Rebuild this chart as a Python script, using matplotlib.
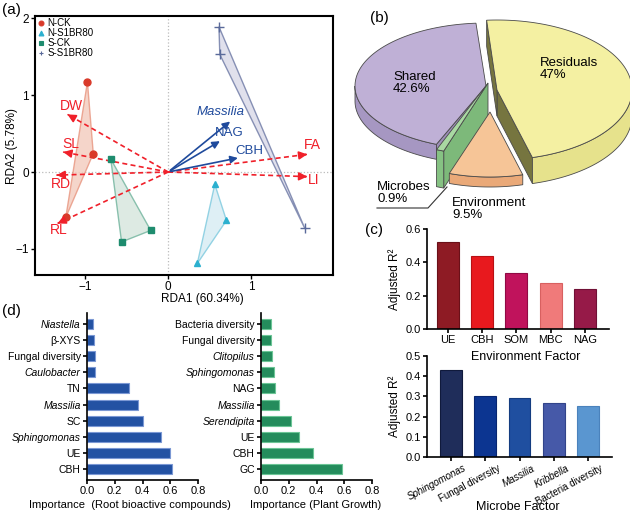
import numpy as np
import matplotlib.pyplot as plt
from matplotlib.patches import Polygon
from matplotlib.lines import Line2D
from matplotlib.transforms import ScaledTranslation

plt.rcParams['font.family'] = ['Liberation Sans', 'DejaVu Sans']
plt.rcParams['axes.linewidth'] = 1.2

# ---- (a) RDA data ----
n_ck_x = [-0.97, -0.90, -1.23]
n_ck_y = [1.17, 0.24, -0.59]
n_s1_x = [0.56, 0.70, 0.35]
n_s1_y = [-0.16, -0.63, -1.19]
s_ck_x = [-0.69, -0.21, -0.56]
s_ck_y = [0.17, -0.76, -0.91]
s_s1_x = [0.61, 0.62, 1.64]
s_s1_y = [1.89, 1.53, -0.73]

env_names = ['DW', 'SL', 'RD', 'RL', 'FA', 'LI']
env_x = [-1.21, -1.26, -1.34, -1.33, 1.67, 1.67]
env_y = [0.75, 0.26, -0.04, -0.67, 0.23, -0.06]
mic_names = ['Massilia', 'NAG', 'CBH']
mic_x = [0.77, 0.65, 0.87]
mic_y = [0.68, 0.42, 0.19]

# ---- (b) variance partitioning ----
pie_labels = ['Shared', 'Microbes', 'Environment', 'Residuals']
pie_values = [42.6, 0.9, 9.5, 47.0]

# ---- (c) adjusted R2 ----
env_factors = ['UE', 'CBH', 'SOM', 'MBC', 'NAG']
env_r2 = [0.52, 0.44, 0.334, 0.274, 0.238]
mic_factors = ['Sphingomonas', 'Fungal diversity', 'Massilia', 'Kribbella', 'Bacteria diversity']
mic_r2 = [0.43, 0.303, 0.293, 0.268, 0.253]

# ---- (d) importance ----
root_names = ['CBH', 'UE', 'Sphingomonas', 'SC', 'Massilia', 'TN',
              'Caulobacter', 'Fungal diversity', 'β-XYS', 'Niastella']
root_imp = [0.612, 0.60, 0.535, 0.40, 0.371, 0.306, 0.06, 0.055, 0.048, 0.043]
plant_names = ['GC', 'CBH', 'UE', 'Serendipita', 'Massilia', 'NAG',
               'Sphingomonas', 'Clitopilus', 'Fungal diversity', 'Bacteria diversity']
plant_imp = [0.583, 0.378, 0.272, 0.217, 0.128, 0.099, 0.094, 0.082, 0.072, 0.07]

italic_names = {'Sphingomonas', 'Massilia', 'Kribbella', 'Caulobacter', 'Niastella',
                'Serendipita', 'Clitopilus'}

W, H = 630, 517
fig = plt.figure(figsize=(6.3, 5.17), dpi=100)


def box(x0, y0, x1, y1):
    # pixel box (top-left origin) -> figure fraction rect
    return [x0 / W, 1 - y1 / H, (x1 - x0) / W, (y1 - y0) / H]


# ================= (a) =================
ax = fig.add_axes(box(35, 16, 333, 275))
ax.axhline(0, color='#bbbbbb', ls=':', lw=0.9, zorder=0)
ax.axvline(0, color='#bbbbbb', ls=':', lw=0.9, zorder=0)

groups = [
    ('N-CK', n_ck_x, n_ck_y, '#d93a2a', '#f3cbbd', '#e8957f', 'o', 5),
    ('N-S1BR80', n_s1_x, n_s1_y, '#2bb0cf', '#d6ecf3', '#7cc9de', '^', 5),
    ('S-CK', s_ck_x, s_ck_y, '#1e8c6e', '#d5e5dd', '#6fb39c', 's', 5),
    ('S-S1BR80', s_s1_x, s_s1_y, '#5a6a9a', '#d9d9e8', '#6c78a4', '+', 7),
]
handles = []
for name, gx, gy, c, fc, ec, m, ms in groups:
    ax.add_patch(Polygon(np.column_stack([gx, gy]), closed=True, facecolor=fc,
                         edgecolor=ec, lw=1.0, alpha=0.8, zorder=1))
    ax.plot(gx, gy, ls='none', marker=m, color=c, ms=ms, mew=1.0, zorder=3)
    handles.append(Line2D([], [], ls='none', marker=m, color=c, ms=3.5, mew=0.8, label=name))

red = '#f0202a'
env_off = [(0.05, 0.11), (0.09, 0.11), (0.05, -0.12), (0.02, -0.08), (0.06, 0.12), (0.08, -0.04)]
for n, x, y, (ox, oy) in zip(env_names, env_x, env_y, env_off):
    ax.plot([0, x], [0, y], color=red, ls=(0, (3, 2)), lw=1.2, zorder=2)
    ax.annotate('', xy=(x, y), xytext=(x * 0.97, y * 0.97),
                arrowprops=dict(arrowstyle='-|>', color=red, lw=1.2, mutation_scale=12))
    ax.text(x + ox, y + oy, n, color=red, fontsize=10, ha='center', va='center')

blue = '#1f4a9c'
mic_off = [(-0.14, 0.10), (0.08, 0.09), (0.11, 0.08)]
for n, x, y, (ox, oy) in zip(mic_names, mic_x, mic_y, mic_off):
    ax.annotate('', xy=(x, y), xytext=(0, 0),
                arrowprops=dict(arrowstyle='-|>', color=blue, lw=1.2, mutation_scale=11))
    ax.text(x + ox, y + oy, n, color=blue, fontsize=9.5, ha='center', va='center',
            style='italic' if n in italic_names else 'normal')

ax.set_xlim(-1.6, 1.98)
ax.set_ylim(-1.34, 2.03)
ax.set_xticks([-1, 0, 1])
ax.set_yticks([-1, 0, 1, 2])
ax.tick_params(labelsize=8.5, length=3, width=1, pad=1.5)
for s in ax.spines.values():
    s.set_linewidth(1.5)
ax.set_xlabel('RDA1 (60.34%)', fontsize=8.5)
ax.xaxis.set_label_coords((202 - 35) / 298, (275 - 293) / 259)
ax.set_ylabel('RDA2 (5.78%)', fontsize=8.5)
ax.yaxis.set_label_coords((18 - 35) / 298, 0.5)
ax.legend(handles=handles, loc='upper left', frameon=False, fontsize=7,
          handlelength=0.8, handletextpad=0.2, labelspacing=0.0, borderaxespad=0.15,
          borderpad=0.1)

# ================= (b) 3D-ish pie =================
axb = fig.add_axes(box(335, 0, 630, 230))
axb.set_xlim(335, 630)
axb.set_ylim(230, 0)
axb.axis('off')

edge = '#4a4a4a'
# per slice: centre, rx, ry, depth, top colour, rim colour, face colour
pie_style = {
    'Shared': ((486, 86), 131, 63, 15, '#bfb0d6', '#a697c2', '#9d8eb8'),
    'Microbes': ((488, 83), 136, 72, 37, '#a9d9a2', '#86c283', '#7db97a'),
    'Environment': ((490, 112), 125, 65, 10, '#f6c597', '#eaa978', '#e0a070'),
    'Residuals': ((497, 90), 135, 70, 26, '#f4f0a2', '#e6e28c', '#76753f'),
}
order = ['Shared', 'Residuals', 'Microbes', 'Environment']
start = 94.4
angles = {}
a = start
for lab, v in zip(pie_labels, pie_values):
    angles[lab] = (a, a + v * 3.6)
    a += v * 3.6


def pt(cx, cy, rx, ry, t):
    t = np.radians(t)
    return cx + rx * np.cos(t), cy - ry * np.sin(t)


for lab in order:
    t1, t2 = angles[lab]
    (cx, cy), rx, ry, d, ctop, crim, cface = pie_style[lab]
    # radial faces
    for t, vis in ((t1, np.cos(np.radians(t1)) > 0), (t2, np.cos(np.radians(t2)) < 0)):
        if vis:
            ox, oy = pt(cx, cy, rx, ry, t)
            axb.add_patch(Polygon([(cx, cy), (ox, oy), (ox, oy + d), (cx, cy + d)],
                                  closed=True, fc=cface, ec=edge, lw=0.6))
    # rim (front part only)
    lo, hi = max(t1, 180), min(t2, 360)
    if hi > lo:
        ts = np.linspace(lo, hi, 80)
        upper = [pt(cx, cy, rx, ry, t) for t in ts]
        lower = [(x, y + d) for x, y in upper[::-1]]
        axb.add_patch(Polygon(upper + lower, closed=True, fc=crim, ec=edge, lw=0.6))
    ts = np.linspace(t1, t2, 120)
    topf = [(cx, cy)] + [pt(cx, cy, rx, ry, t) for t in ts]
    axb.add_patch(Polygon(topf, closed=True, fc=ctop, ec=edge, lw=0.6))

pf = 9.5
axb.text(393, 83, 'Shared\n' + f'{pie_values[0]}%', fontsize=pf, ha='left', va='center',
         linespacing=1.1)
axb.text(540, 69, 'Residuals\n' + f'{pie_values[3]:g}%', fontsize=pf, ha='left',
         va='center', linespacing=1.1)
axb.text(377, 193, 'Microbes\n' + f'{pie_values[1]}%', fontsize=pf, ha='left', va='center',
         linespacing=1.1)
axb.text(452, 209, 'Environment\n' + f'{pie_values[2]}%', fontsize=pf, ha='left',
         va='center', linespacing=1.1)
axb.plot([377, 428, 447], [208, 208, 187], color='#333333', lw=0.8)

# ================= (c) =================
env_cols = ['#8e1b24', '#e8191e', '#c0135c', '#f07a7a', '#961a48']
env_edge = ['#6a1018', '#b81014', '#900a44', '#d86060', '#701036']
axc1 = fig.add_axes(box(427, 229, 609, 329))
axc1.bar(range(len(env_factors)), env_r2, width=0.64, color=env_cols,
         edgecolor=env_edge, lw=0.8)
axc1.set_xlim(-0.61, 4.7)
axc1.set_ylim(0, 0.6)
axc1.set_yticks([0, 0.2, 0.4, 0.6])
axc1.set_xticks(range(len(env_factors)))
axc1.set_xticklabels(env_factors)
axc1.set_xlabel('Environment Factor', fontsize=9)
axc1.xaxis.set_label_coords((526 - 427) / 182, (329 - 351) / 100)
axc1.set_ylabel('Adjusted R²', fontsize=8.5, labelpad=3)

mic_cols = ['#1f2d5a', '#0c3591', '#1f4fa0', '#4659a8', '#5a96d0']
mic_edge = ['#101a3c', '#082670', '#143c80', '#32448a', '#4a82bc']
axc2 = fig.add_axes(box(427, 356, 612, 457))
axc2.patch.set_visible(False)
axc2.bar(range(len(mic_factors)), mic_r2, width=0.64, color=mic_cols,
         edgecolor=mic_edge, lw=0.8)
axc2.set_xlim(-0.7, 4.7)
axc2.set_ylim(0, 0.5)
axc2.set_yticks([0, 0.1, 0.2, 0.3, 0.4, 0.5])
axc2.set_xticks(range(len(mic_factors)))
axc2.set_xticklabels(mic_factors, rotation=28, ha='right', rotation_mode='anchor')
axc2.set_xlabel('Microbe Factor', fontsize=9)
axc2.xaxis.set_label_coords((518 - 427) / 185, (457 - 501) / 101)
axc2.set_ylabel('Adjusted R²', fontsize=8.5, labelpad=3)

for axc in (axc1, axc2):
    axc.spines['top'].set_visible(False)
    axc.spines['right'].set_visible(False)
    axc.tick_params(labelsize=8, length=3, width=1.2, pad=1.5)
    axc.yaxis.set_major_formatter(plt.FormatStrFormatter('%.1f'))
shift = ScaledTranslation(12 / 100, 0, fig.dpi_scale_trans)
for t in axc2.get_xticklabels():
    t.set_fontsize(7)
    t.set_transform(t.get_transform() + shift)
    if t.get_text() in italic_names:
        t.set_style('italic')


# ================= (d) =================
def hbar(rect, names, vals, fc, ec, xlabel, lab_x):
    axd = fig.add_axes(rect)
    axd.patch.set_visible(False)
    axd.barh(range(len(names)), vals, height=0.62, color=fc, edgecolor=ec, lw=0.8)
    axd.set_xlim(0, 0.8)
    axd.set_ylim(-0.7, 9.7)
    axd.set_xticks([0, 0.2, 0.4, 0.6, 0.8])
    axd.xaxis.set_major_formatter(plt.FormatStrFormatter('%.1f'))
    axd.set_yticks(range(len(names)))
    axd.set_yticklabels(names)
    for t in axd.get_yticklabels():
        if t.get_text() in italic_names:
            t.set_style('italic')
    axd.spines['top'].set_visible(False)
    axd.spines['right'].set_visible(False)
    axd.tick_params(axis='y', labelsize=7.5, length=3, width=1.2, pad=1.5)
    axd.tick_params(axis='x', labelsize=8, length=3, width=1.2, pad=1.5)
    axd.set_xlabel(xlabel, fontsize=8)
    axd.xaxis.set_label_coords(lab_x, (480 - 500) / 167)
    return axd


hbar(box(87, 313, 198, 480), root_names, root_imp, '#2352a3', '#7b98d4',
     'Importance  (Root bioactive compounds)', (130 - 87) / 111)
hbar(box(261, 313, 372, 480), plant_names, plant_imp, '#248c5c', '#6cc596',
     'Importance (Plant Growth)', (316 - 261) / 111)

# panel letters
for lab, x, y in [('(a)', 2, 10), ('(b)', 370, 18), ('(c)', 365, 230), ('(d)', 2, 311)]:
    fig.text(x / W, 1 - y / H, lab, fontsize=11, ha='left', va='center')

fig.savefig('out.png', dpi=100)
